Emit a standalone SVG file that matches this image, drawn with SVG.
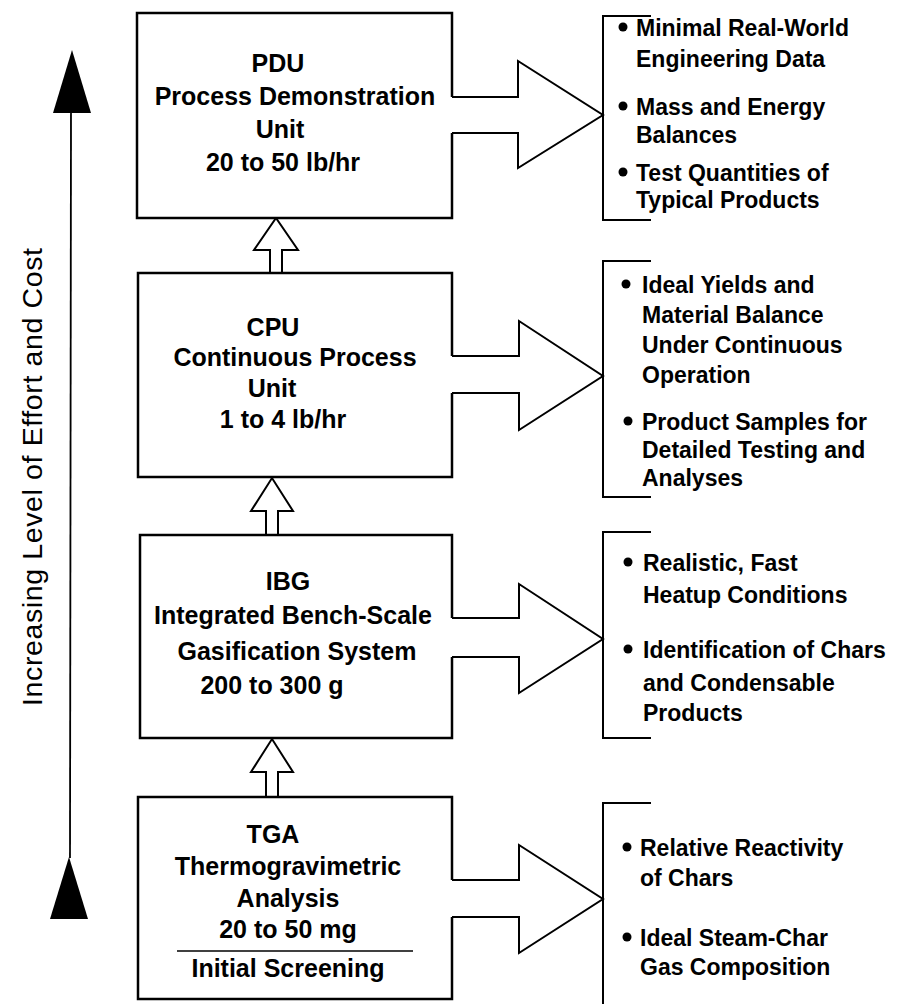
<svg xmlns="http://www.w3.org/2000/svg" width="910" height="1004" viewBox="0 0 910 1004">
<style>
.bx{fill:#fff;stroke:#000;stroke-width:2.5;stroke-linejoin:miter}
.ln{fill:none;stroke:#000;stroke-width:2}
.ar{fill:#fff;stroke:#000;stroke-width:2;stroke-linejoin:miter}
.t{font-family:"Liberation Sans",Arial,Helvetica,sans-serif;fill:#000}
.bt{font-size:25px;font-weight:bold;text-anchor:middle}
.bl{font-size:23px;font-weight:bold}
</style>
<rect width="910" height="1004" fill="#fff"/>
<g id="axis">
<line x1="71" y1="112" x2="70" y2="858" stroke="#000" stroke-width="1.8"/>
<polygon points="72,50 53,113 91,113" fill="#000"/>
<polygon points="69,857 50,919 88,919" fill="#000"/>
<text class="t" font-size="28.5" text-anchor="middle" textLength="458" lengthAdjust="spacing" transform="translate(42,477) rotate(-90)">Increasing Level of Effort and Cost</text>
</g>
<g id="connectors">
<path class="ar" d="M452,97 L518,97 L518,61 L603,115 L518,168 L518,133 L452,133"/>
<path class="ar" d="M452,356 L519,356 L519,321 L603,376 L519,430 L519,393 L452,393"/>
<path class="ar" d="M452,618 L519,618 L519,584 L603,639 L519,693 L519,657 L452,657"/>
<path class="ar" d="M452,880 L519,880 L519,845 L603,899 L519,953 L519,917 L452,917"/>
<path class="ar" d="M270,273 L270,250 L254,250 L276,218 L298,250 L282,250 L282,273"/>
<path class="ar" d="M266,535 L266,511 L251,511 L272,478 L293,511 L278,511 L278,535"/>
<path class="ar" d="M266,797 L266,772 L251,772 L272,739 L293,772 L278,772 L278,797"/>
</g>
<g id="pdu">
<path class="bx" d="M452,97 L452,13 L137,13 L137,218 L452,218 L452,133"/>
<text class="t bt" x="278" y="72">PDU</text>
<text class="t bt" x="295" y="105">Process Demonstration</text>
<text class="t bt" x="280" y="138">Unit</text>
<text class="t bt" x="283" y="171">20 to 50 lb/hr</text>
</g>
<g id="cpu">
<path class="bx" d="M452,356 L452,273 L138,273 L138,477 L452,477 L452,393"/>
<text class="t bt" x="273" y="336">CPU</text>
<text class="t bt" x="295" y="366">Continuous Process</text>
<text class="t bt" x="272" y="397">Unit</text>
<text class="t bt" x="283" y="428">1 to 4 lb/hr</text>
</g>
<g id="ibg">
<path class="bx" d="M452,618 L452,535 L140,535 L140,738 L452,738 L452,657"/>
<text class="t bt" x="288" y="590">IBG</text>
<text class="t bt" x="293" y="624">Integrated Bench-Scale</text>
<text class="t bt" x="297" y="660">Gasification System</text>
<text class="t bt" x="272" y="694">200 to 300 g</text>
</g>
<g id="tga">
<path class="bx" d="M452,880 L452,797 L138,797 L138,999 L452,999 L452,917"/>
<text class="t bt" x="273" y="843">TGA</text>
<text class="t bt" x="288" y="875">Thermogravimetric</text>
<text class="t bt" x="288" y="907">Analysis</text>
<text class="t bt" x="288" y="938">20 to 50 mg</text>
<line x1="177" y1="951" x2="413" y2="951" stroke="#000" stroke-width="1.5"/>
<text class="t bt" x="288" y="977">Initial Screening</text>
</g>
<g id="pdu-out">
<path class="ln" d="M651,16 L603,16 L603,220 L651,220"/>
<circle cx="623" cy="27" r="4.5"/>
<text class="t bl" x="636" y="36">Minimal Real-World</text>
<text class="t bl" x="636" y="67">Engineering Data</text>
<circle cx="623" cy="106" r="4.5"/>
<text class="t bl" x="636" y="115">Mass and Energy</text>
<text class="t bl" x="636" y="143">Balances</text>
<circle cx="623" cy="172" r="4.5"/>
<text class="t bl" x="636" y="181">Test Quantities of</text>
<text class="t bl" x="636" y="208">Typical Products</text>
</g>
<g id="cpu-out">
<path class="ln" d="M651,261 L603,261 L603,497 L651,497"/>
<circle cx="626" cy="284" r="4.5"/>
<text class="t bl" x="642" y="293">Ideal Yields and</text>
<text class="t bl" x="642" y="323">Material Balance</text>
<text class="t bl" x="642" y="353">Under Continuous</text>
<text class="t bl" x="642" y="383">Operation</text>
<circle cx="628" cy="421" r="4.5"/>
<text class="t bl" x="642" y="430">Product Samples for</text>
<text class="t bl" x="642" y="458">Detailed Testing and</text>
<text class="t bl" x="642" y="486">Analyses</text>
</g>
<g id="ibg-out">
<path class="ln" d="M651,532 L603,532 L603,738 L651,738"/>
<circle cx="628" cy="562" r="4.5"/>
<text class="t bl" x="643" y="571">Realistic, Fast</text>
<text class="t bl" x="643" y="603">Heatup Conditions</text>
<circle cx="628" cy="649" r="4.5"/>
<text class="t bl" x="643" y="658">Identification of Chars</text>
<text class="t bl" x="643" y="691">and Condensable</text>
<text class="t bl" x="643" y="721">Products</text>
</g>
<g id="tga-out">
<path class="ln" d="M651,803 L603,803 L603,1004"/>
<circle cx="627" cy="847" r="4.5"/>
<text class="t bl" x="640" y="856">Relative Reactivity</text>
<text class="t bl" x="640" y="886">of Chars</text>
<circle cx="627" cy="937" r="4.5"/>
<text class="t bl" x="640" y="946">Ideal Steam-Char</text>
<text class="t bl" x="640" y="975">Gas Composition</text>
</g>
</svg>
